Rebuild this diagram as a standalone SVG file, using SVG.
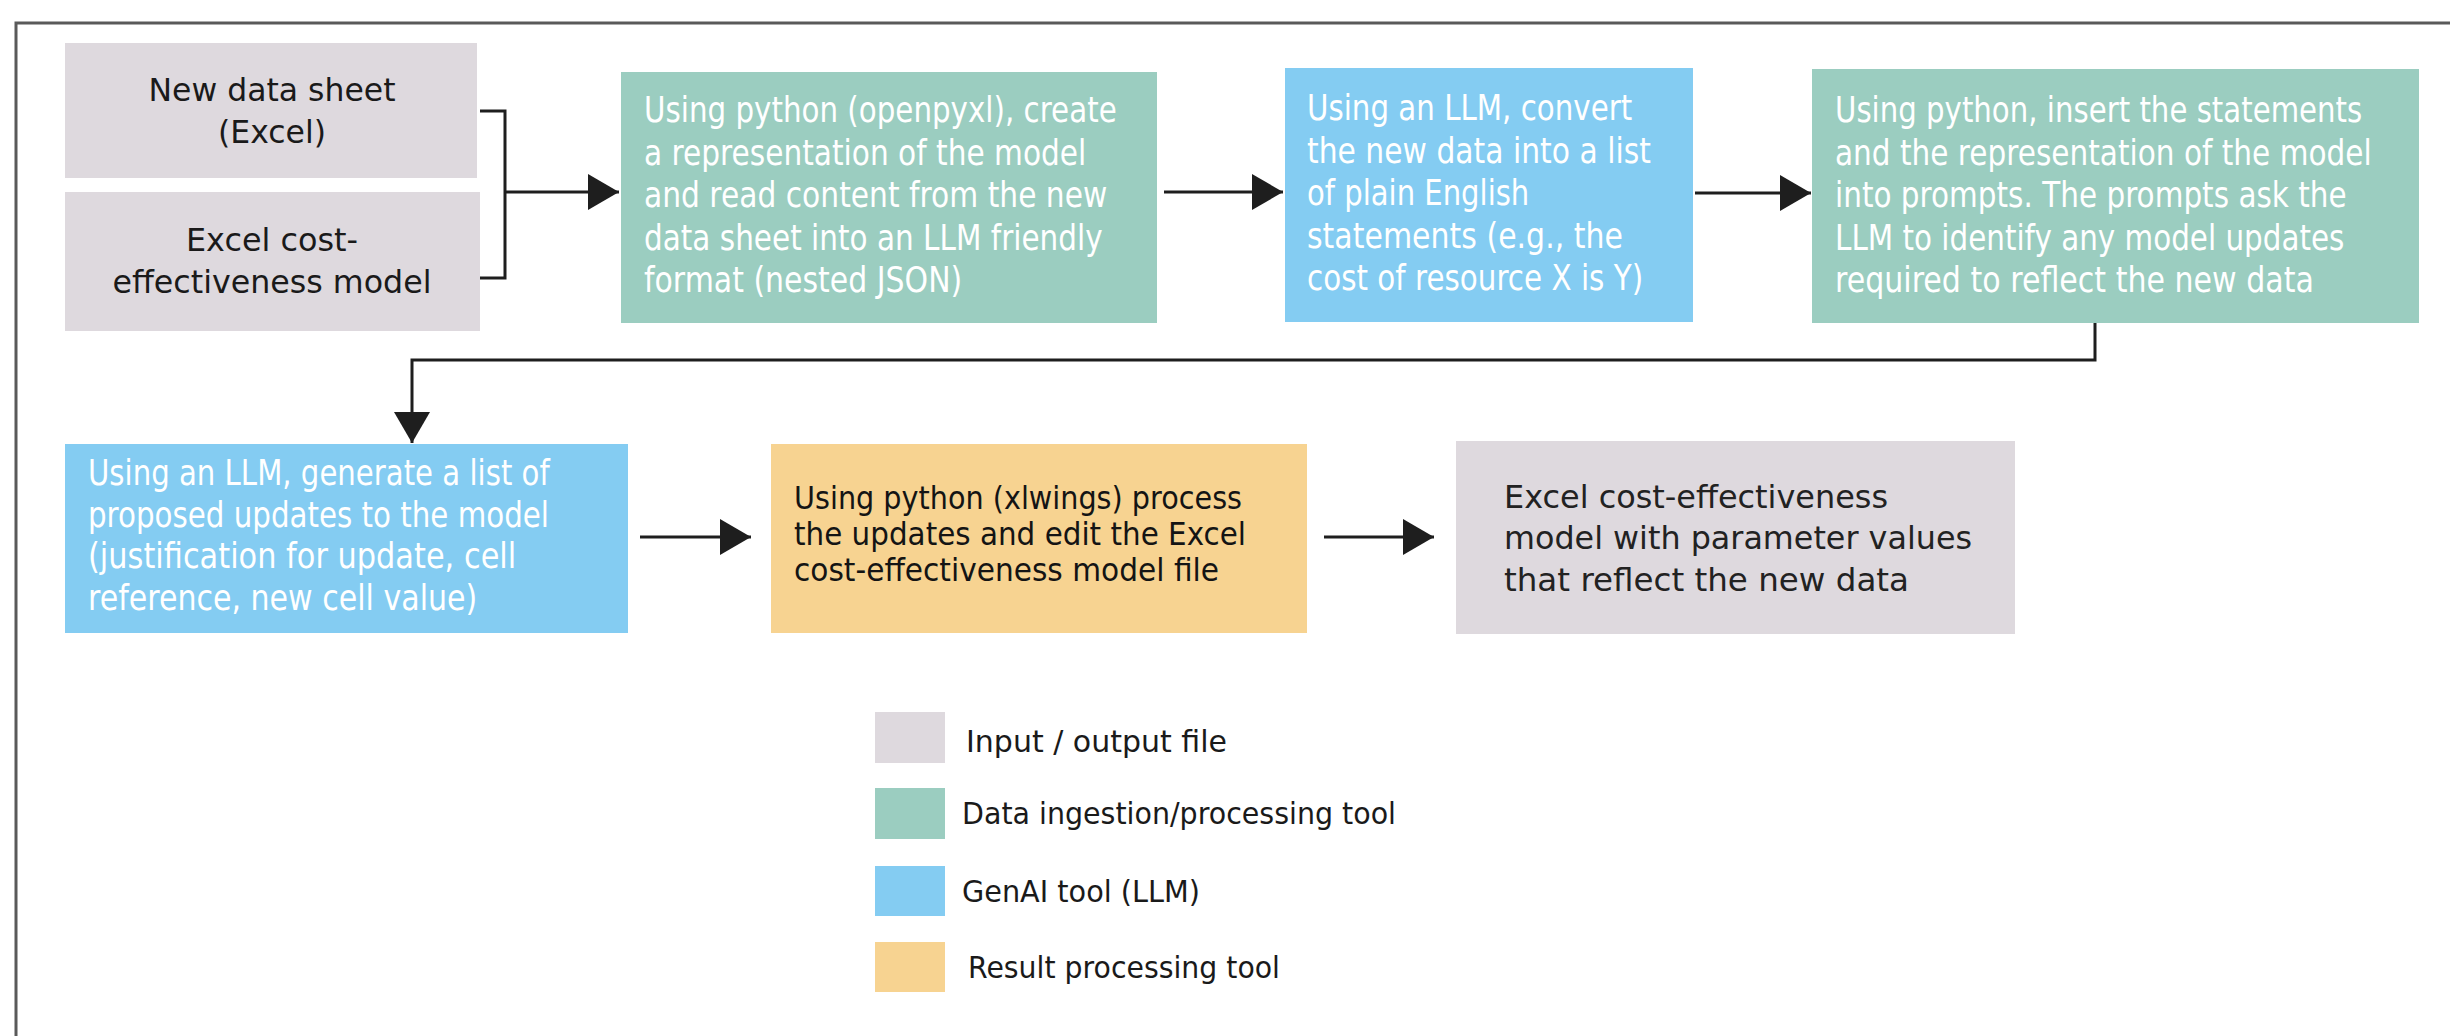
<svg xmlns="http://www.w3.org/2000/svg" width="2450" height="1036" viewBox="0 0 2450 1036">
<defs>
<style>
.io{fill:#DED9DE}
.ing{fill:#9BCDC0}
.ai{fill:#84CCF2}
.res{fill:#F7D391}
text{font-family:"DejaVu Sans","Liberation Sans",sans-serif}
.w{fill:#ffffff;font-size:35px}
.b{fill:#1a1a1a;font-size:32px}
.o{fill:#141414;font-size:32px}
.g{fill:#222222;font-size:32px}
.lg{fill:#1a1a1a;font-size:30px}
.c{fill:none;stroke:#1e1e1e;stroke-width:3}
.frame{fill:none;stroke:#5a5a5a;stroke-width:3}
</style>
<marker id="ah" markerUnits="userSpaceOnUse" markerWidth="31" markerHeight="36" refX="31" refY="18" orient="auto">
<path d="M0,0 L31,18 L0,36 Z" fill="#1e1e1e"/>
</marker>
</defs>
<rect width="2450" height="1036" fill="#ffffff"/>
<path class="frame" d="M16,1040 V23 H2455"/>

<g id="connectors">
<path class="c" d="M480,111 H505 V278 H480"/>
<path class="c" d="M505,192 H619" marker-end="url(#ah)"/>
<path class="c" d="M1164,192 H1283" marker-end="url(#ah)"/>
<path class="c" d="M1695,193 H1811" marker-end="url(#ah)"/>
<path class="c" d="M2095,323 V360 H412 V443" marker-end="url(#ah)"/>
<path class="c" d="M640,537 H751" marker-end="url(#ah)"/>
<path class="c" d="M1324,537 H1434" marker-end="url(#ah)"/>
</g>

<g id="node-new-data-sheet">
<rect class="io" x="65" y="43" width="412" height="135"/>
<text class="b" x="272" y="101" text-anchor="middle" textLength="247" lengthAdjust="spacingAndGlyphs">New data sheet</text>
<text class="b" x="272" y="143" text-anchor="middle" textLength="108" lengthAdjust="spacingAndGlyphs">(Excel)</text>
</g>

<g id="node-excel-model">
<rect class="io" x="65" y="192" width="415" height="139"/>
<text class="b" x="272" y="251" text-anchor="middle" textLength="172" lengthAdjust="spacingAndGlyphs">Excel cost-</text>
<text class="b" x="272" y="293" text-anchor="middle" textLength="319" lengthAdjust="spacingAndGlyphs">effectiveness model</text>
</g>

<g id="node-openpyxl">
<rect class="ing" x="621" y="72" width="536" height="251"/>
<g transform="translate(644,0) scale(0.78,1)">
<text class="w" x="0" y="122" textLength="606" lengthAdjust="spacingAndGlyphs">Using python (openpyxl), create</text>
<text class="w" x="0" y="165" textLength="567" lengthAdjust="spacingAndGlyphs">a representation of the model</text>
<text class="w" x="0" y="207" textLength="594" lengthAdjust="spacingAndGlyphs">and read content from the new</text>
<text class="w" x="0" y="250" textLength="588" lengthAdjust="spacingAndGlyphs">data sheet into an LLM friendly</text>
<text class="w" x="0" y="292" textLength="408" lengthAdjust="spacingAndGlyphs">format (nested JSON)</text>
</g>
</g>

<g id="node-llm-convert">
<rect class="ai" x="1285" y="68" width="408" height="254"/>
<g transform="translate(1307,0) scale(0.78,1)">
<text class="w" x="0" y="120" textLength="417" lengthAdjust="spacingAndGlyphs">Using an LLM, convert</text>
<text class="w" x="0" y="163" textLength="441" lengthAdjust="spacingAndGlyphs">the new data into a list</text>
<text class="w" x="0" y="205" textLength="285" lengthAdjust="spacingAndGlyphs">of plain English</text>
<text class="w" x="0" y="248" textLength="405" lengthAdjust="spacingAndGlyphs">statements (e.g., the</text>
<text class="w" x="0" y="290" textLength="431" lengthAdjust="spacingAndGlyphs">cost of resource X is Y)</text>
</g>
</g>

<g id="node-prompts">
<rect class="ing" x="1812" y="69" width="607" height="254"/>
<g transform="translate(1835,0) scale(0.78,1)">
<text class="w" x="0" y="122" textLength="676" lengthAdjust="spacingAndGlyphs">Using python, insert the statements</text>
<text class="w" x="0" y="165" textLength="688" lengthAdjust="spacingAndGlyphs">and the representation of the model</text>
<text class="w" x="0" y="207" textLength="656" lengthAdjust="spacingAndGlyphs">into prompts. The prompts ask the</text>
<text class="w" x="0" y="250" textLength="653" lengthAdjust="spacingAndGlyphs">LLM to identify any model updates</text>
<text class="w" x="0" y="292" textLength="614" lengthAdjust="spacingAndGlyphs">required to reflect the new data</text>
</g>
</g>

<g id="node-llm-updates">
<rect class="ai" x="65" y="444" width="563" height="189"/>
<g transform="translate(88,0) scale(0.78,1)">
<text class="w" x="0" y="485" textLength="592" lengthAdjust="spacingAndGlyphs">Using an LLM, generate a list of</text>
<text class="w" x="0" y="527" textLength="591" lengthAdjust="spacingAndGlyphs">proposed updates to the model</text>
<text class="w" x="0" y="568" textLength="549" lengthAdjust="spacingAndGlyphs">(justification for update, cell</text>
<text class="w" x="0" y="610" textLength="499" lengthAdjust="spacingAndGlyphs">reference, new cell value)</text>
</g>
</g>

<g id="node-xlwings">
<rect class="res" x="771" y="444" width="536" height="189"/>
<text class="o" x="794" y="509" textLength="448" lengthAdjust="spacingAndGlyphs">Using python (xlwings) process</text>
<text class="o" x="794" y="545" textLength="452" lengthAdjust="spacingAndGlyphs">the updates and edit the Excel</text>
<text class="o" x="794" y="581" textLength="425" lengthAdjust="spacingAndGlyphs">cost-effectiveness model file</text>
</g>

<g id="node-output">
<rect class="io" x="1456" y="441" width="559" height="193"/>
<text class="g" x="1504" y="508" textLength="384" lengthAdjust="spacingAndGlyphs">Excel cost-effectiveness</text>
<text class="g" x="1504" y="549" textLength="468" lengthAdjust="spacingAndGlyphs">model with parameter values</text>
<text class="g" x="1504" y="591" textLength="405" lengthAdjust="spacingAndGlyphs">that reflect the new data</text>
</g>

<g id="legend">
<rect class="io" x="875" y="712" width="70" height="51"/>
<text class="lg" x="966" y="752" textLength="261" lengthAdjust="spacingAndGlyphs">Input / output file</text>
<rect class="ing" x="875" y="788" width="70" height="51"/>
<text class="lg" x="962" y="824" textLength="434" lengthAdjust="spacingAndGlyphs">Data ingestion/processing tool</text>
<rect class="ai" x="875" y="866" width="70" height="50"/>
<text class="lg" x="962" y="902" textLength="238" lengthAdjust="spacingAndGlyphs">GenAI tool (LLM)</text>
<rect class="res" x="875" y="942" width="70" height="50"/>
<text class="lg" x="968" y="978" textLength="312" lengthAdjust="spacingAndGlyphs">Result processing tool</text>
</g>
</svg>
